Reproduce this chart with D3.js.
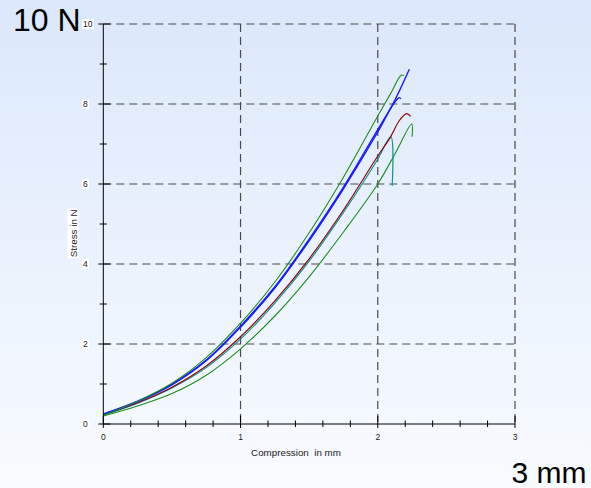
<!DOCTYPE html>
<html>
<head>
<meta charset="utf-8">
<script src="https://cdn.jsdelivr.net/npm/d3@7"></script>
<style>
  html, body { margin: 0; padding: 0; }
  body { width: 591px; height: 488px; overflow: hidden; }
  text { font-family: "Liberation Sans", Arial, sans-serif; }
</style>
</head>
<body>
<svg id="chart" width="591" height="488"></svg>
<script>
// Compression (mm) vs stress (N) for six test specimens
const xTicksMajor = [0, 1, 2, 3];
const yTicksMajor = [0, 2, 4, 6, 8, 10];
const xTickLabels = ["0", "1", "2", "3"];
const yTickLabels = ["0", "2", "4", "6", "8", "10"];

const compGreenUpper = [0, 0.25, 0.5, 0.75, 1.0, 1.25, 1.5, 1.75, 2.0, 2.1, 2.17, 2.19];
const stressGreenUpper = [0.22, 0.57, 1.02, 1.66, 2.52, 3.55, 4.78, 6.17, 7.7, 8.3, 8.72, 8.71];

const compBlueA = [0, 0.25, 0.5, 0.75, 1.0, 1.25, 1.5, 1.75, 2.0, 2.11, 2.23];
const stressBlueA = [0.25, 0.57, 1.0, 1.6, 2.45, 3.43, 4.62, 5.92, 7.36, 8.0, 8.87];

const compBlueB = [0, 0.25, 0.5, 0.75, 1.0, 1.25, 1.5, 1.75, 2.0, 2.1, 2.145, 2.158, 2.168];
const stressBlueB = [0.24, 0.56, 0.98, 1.58, 2.42, 3.4, 4.58, 5.88, 7.3, 7.92, 8.13, 8.16, 8.13];

const compRed = [0, 0.25, 0.5, 0.75, 1.0, 1.25, 1.5, 1.75, 2.0, 2.09, 2.16, 2.21, 2.24];
const stressRed = [0.23, 0.53, 0.92, 1.45, 2.18, 3.08, 4.13, 5.35, 6.7, 7.16, 7.6, 7.76, 7.69];

const compTeal = [0, 0.25, 0.5, 0.75, 1.0, 1.25, 1.5, 1.75, 2.0, 2.095, 2.105];
const stressTeal = [0.22, 0.52, 0.9, 1.41, 2.12, 3.02, 4.07, 5.29, 6.62, 7.18, 5.95];

const compGreenLower = [0, 0.25, 0.5, 0.75, 1.0, 1.25, 1.5, 1.75, 2.0, 2.125, 2.247, 2.25];
const stressGreenLower = [0.2, 0.45, 0.76, 1.22, 1.88, 2.7, 3.68, 4.8, 6.0, 6.75, 7.5, 7.18];

const seriesList = [
  { name: "green-lower", x: compGreenLower, y: stressGreenLower, color: "#1e8c1e", w: 1.1 },
  { name: "teal", x: compTeal, y: stressTeal, color: "#0a9090", w: 1.1 },
  { name: "red", x: compRed, y: stressRed, color: "#8a0a0a", w: 1.2 },
  { name: "blue-b", x: compBlueB, y: stressBlueB, color: "#1a1aff", w: 1.4 },
  { name: "blue-a", x: compBlueA, y: stressBlueA, color: "#1a1aff", w: 1.4 },
  { name: "green-upper", x: compGreenUpper, y: stressGreenUpper, color: "#1e8c1e", w: 1.1 }
];

const svg = d3.select("#chart");

// page background
const defs = svg.append("defs");
const grad = defs.append("linearGradient").attr("id", "bg").attr("x1", 0).attr("y1", 0).attr("x2", 0).attr("y2", 1);
grad.append("stop").attr("offset", "0%").attr("stop-color", "#dbe8fb");
grad.append("stop").attr("offset", "100%").attr("stop-color", "#f8fbff");
svg.append("rect").attr("width", 591).attr("height", 488).attr("fill", "url(#bg)");

const x = d3.scaleLinear().domain([0, 3]).range([103.3, 515]);
const y = d3.scaleLinear().domain([0, 10]).range([424, 24]);

// dashed grid
const grid = svg.append("g").attr("stroke", "#4a4a4a").attr("stroke-width", 1.2).attr("stroke-dasharray", "8,5");
grid.selectAll("line.h").data(yTicksMajor.filter(d => d > 0)).join("line")
  .attr("x1", x(0)).attr("x2", x(3)).attr("y1", d => y(d)).attr("y2", d => y(d));
grid.selectAll("line.v").data(xTicksMajor.filter(d => d > 0)).join("line")
  .attr("x1", d => x(d)).attr("x2", d => x(d)).attr("y1", y(10)).attr("y2", y(0));

// curves
const line = d3.line().x(d => x(d[0])).y(d => y(d[1])).curve(d3.curveCatmullRom.alpha(0.5));
svg.append("g").selectAll("path").data(seriesList).join("path")
  .attr("d", s => line(s.x.map((v, i) => [v, s.y[i]])))
  .attr("fill", "none")
  .attr("stroke", s => s.color)
  .attr("stroke-width", s => s.w)
  .attr("stroke-linejoin", "round");

// axes
const axes = svg.append("g").attr("stroke", "#000").attr("stroke-width", 1);
axes.append("line").attr("x1", x(0)).attr("x2", x(0)).attr("y1", y(10)).attr("y2", y(0));
axes.append("line").attr("x1", x(0)).attr("x2", x(3)).attr("y1", y(0)).attr("y2", y(0));

const xMinor = d3.range(0, 15).map(i => i * 0.2).filter(v => Math.abs(v - Math.round(v)) > 1e-6);
const yMinor = [1, 3, 5, 7, 9];

axes.selectAll("line.xmaj").data(xTicksMajor).join("line")
  .attr("x1", d => x(d)).attr("x2", d => x(d)).attr("y1", y(0) - 8).attr("y2", y(0) + 4);
axes.selectAll("line.xmin").data(xMinor).join("line")
  .attr("x1", d => x(d)).attr("x2", d => x(d)).attr("y1", y(0) - 3.5).attr("y2", y(0) + 3);
axes.selectAll("line.ymaj").data(yTicksMajor).join("line")
  .attr("x1", x(0) - 5).attr("x2", x(0) + 7).attr("y1", d => y(d)).attr("y2", d => y(d));
axes.selectAll("line.ymin").data(yMinor).join("line")
  .attr("x1", x(0) - 3.5).attr("x2", x(0) + 3.5).attr("y1", d => y(d)).attr("y2", d => y(d));

// tick labels
const labels = svg.append("g").attr("font-size", 8.5).attr("fill", "#222");
labels.selectAll("text.xl").data(xTicksMajor).join("text")
  .attr("x", d => x(d)).attr("y", 440).attr("text-anchor", "middle")
  .text((d, i) => xTickLabels[i]);

const yl = labels.selectAll("g.yl").data(yTicksMajor).join("g");
yl.append("rect").attr("fill", "#fff");
yl.append("text").attr("x", 83).attr("y", d => y(d) + 3)
  .text((d, i) => yTickLabels[i]);
yl.each(function () {
  const g = d3.select(this);
  const b = g.select("text").node().getBBox();
  g.select("rect").attr("x", b.x - 1).attr("y", b.y).attr("width", b.width + 2).attr("height", b.height);
});

// axis titles
svg.append("text").attr("x", 296).attr("y", 456).attr("text-anchor", "middle")
  .attr("font-size", 9.8).attr("fill", "#222").attr("xml:space", "preserve")
  .style("white-space", "pre").text("Compression  in mm");

const yt = svg.append("g").attr("transform", "translate(76.5,233.3) rotate(-90)");
const ytRect = yt.append("rect").attr("fill", "#fff");
const ytText = yt.append("text").attr("text-anchor", "middle").attr("font-size", 9.8).attr("fill", "#222").text("Stress in N");
const yb = ytText.node().getBBox();
ytRect.attr("x", yb.x - 1).attr("y", yb.y).attr("width", yb.width + 2).attr("height", yb.height);

// large unit annotations
svg.append("text").attr("x", 13).attr("y", 31).attr("font-size", 32).attr("fill", "#000").text("10 N");
svg.append("text").attr("x", 511.5).attr("y", 483).attr("font-size", 30).attr("fill", "#000").text("3 mm");
</script>
</body>
</html>
